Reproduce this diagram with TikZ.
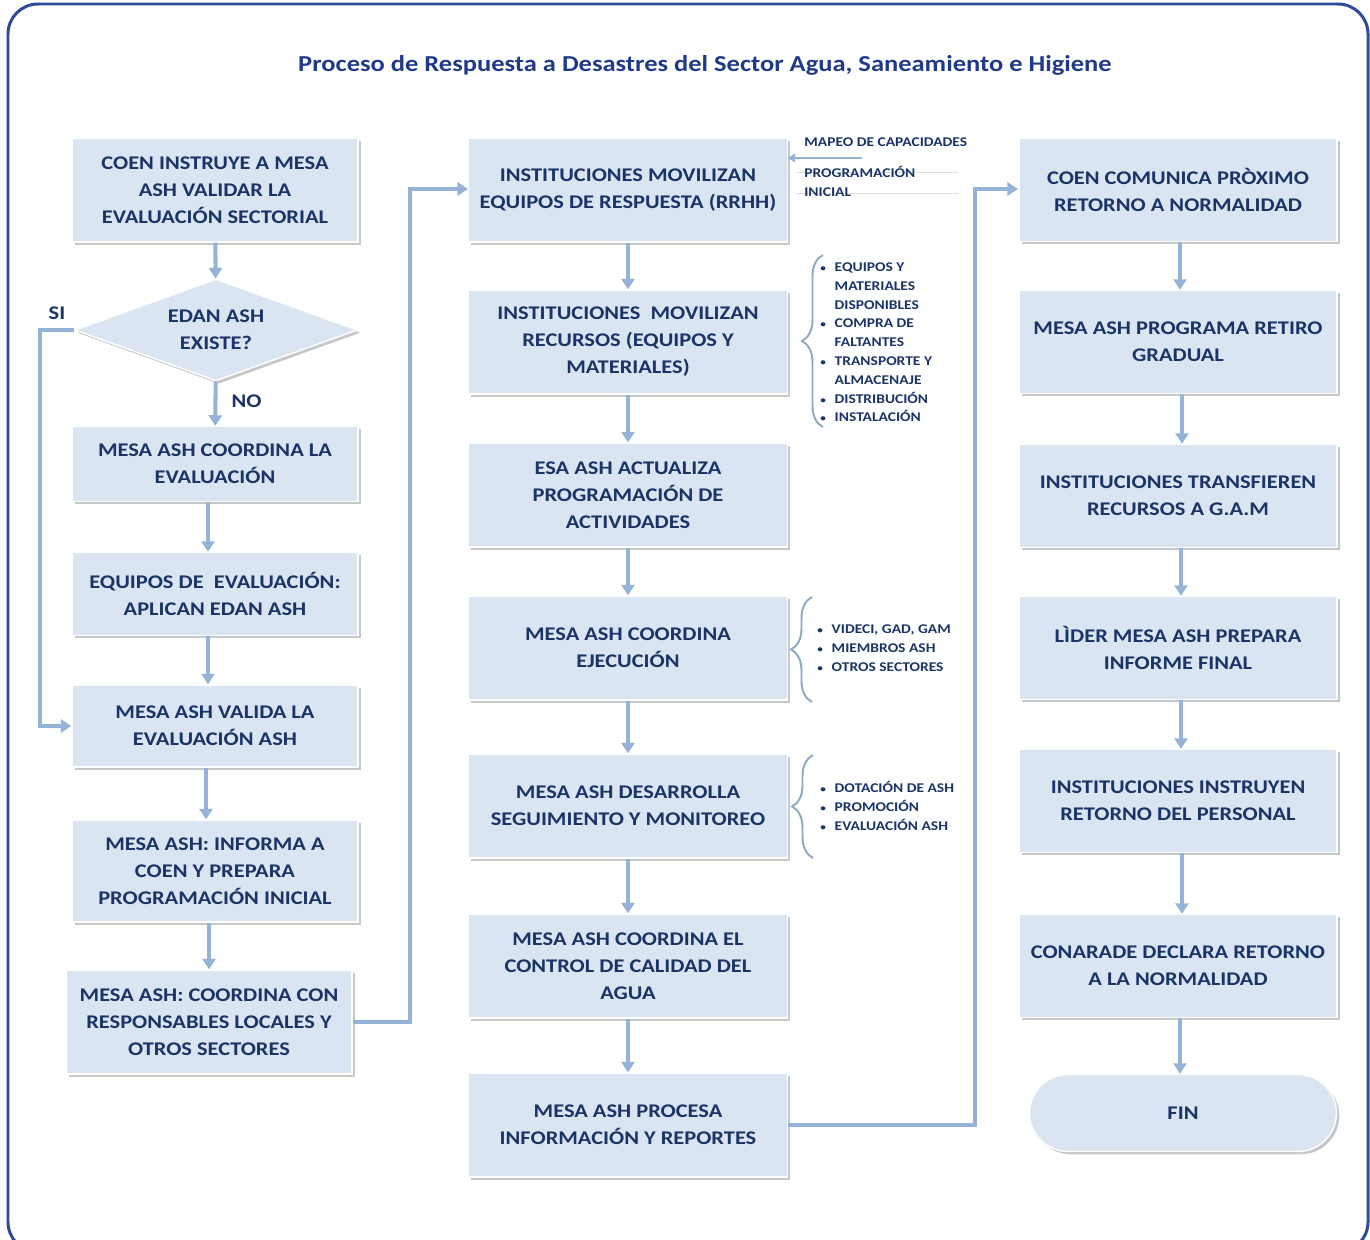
\documentclass[tikz,border=0pt]{standalone}
\usepackage{fontspec}
\setmainfont{Carlito}[FakeStretch=1.16]
\usetikzlibrary{arrows.meta,shapes.geometric,shadows,decorations.pathreplacing}
\definecolor{boxfill}{HTML}{DBE5F1}
\definecolor{boxtext}{HTML}{1A3468}
\definecolor{flowblue}{HTML}{95B3D7}
\definecolor{framenavy}{HTML}{2E4A9A}
\definecolor{titleblue}{HTML}{1F3A8A}
\definecolor{bracegray}{HTML}{8FA8C6}
\newcommand{\blt}{{\fontsize{5.5}{5}\selectfont\textbullet}}
\begin{document}
\begin{tikzpicture}[x=0.02cm, y=-0.02cm,
  box/.style={rectangle, fill=boxfill, draw=white, line width=0.8pt, text=boxtext,
    font=\fontsize{11}{15.3}\selectfont\bfseries, align=center, inner sep=0pt,
    drop shadow={shadow xshift=1.6pt, shadow yshift=-1.6pt, opacity=0.4, fill=black!55}},
  leftbox/.style={box, minimum width=5.72cm},
  midbox/.style={box, minimum width=6.38cm, minimum height=2.08cm},
  rightbox/.style={box, minimum width=6.36cm, minimum height=2.06cm},
  flow/.style={draw=flowblue, line width=2.3pt, -{Triangle[width=7.5pt,length=6pt]}},
  lbl/.style={text=boxtext, font=\fontsize{11}{13}\selectfont\bfseries, inner sep=0pt},
  note/.style={text=boxtext, font=\fontsize{7.6}{10.7}\selectfont\bfseries, inner sep=0pt, align=left},
  curly/.style={draw=bracegray, line width=1.1pt, decorate, decoration={brace, amplitude=0.42cm}}]
\useasboundingbox (0,0) rectangle (1370,1240);
% outer frame and title
\draw[framenavy, line width=1.7pt, rounded corners=0.6cm] (8,4) rectangle (1368,1252);
\node[text=titleblue, font=\fontsize{13}{15}\selectfont\bfseries] (title) at (705,65)
  {Proceso de Respuesta a Desastres del Sector Agua, Saneamiento e Higiene};

% left column
\node[leftbox, minimum height=2.08cm] (coen) at (215,190)
  {COEN INSTRUYE A MESA\\ASH VALIDAR LA\\EVALUACIÓN SECTORIAL};
\node[box, diamond, aspect=2.8, minimum width=5.66cm, minimum height=2.04cm] (edan) at (216,330)
  {EDAN ASH\\EXISTE?};
\node[leftbox, minimum height=1.5cm] (coord) at (215,464)
  {MESA ASH COORDINA LA\\EVALUACIÓN};
\node[leftbox, minimum height=1.66cm] (equipos) at (215,594)
  {EQUIPOS DE\ \ EVALUACIÓN:\\APLICAN EDAN ASH};
\node[leftbox, minimum height=1.64cm] (valida) at (215,726)
  {MESA ASH VALIDA LA\\EVALUACIÓN ASH};
\node[leftbox, minimum height=2.04cm] (informa) at (215,871)
  {MESA ASH: INFORMA A\\COEN Y PREPARA\\PROGRAMACIÓN INICIAL};
\node[leftbox, minimum height=2.08cm] (respons) at (209,1022)
  {MESA ASH: COORDINA CON\\RESPONSABLES LOCALES Y\\OTROS SECTORES};

\draw[flow] (coen) -- (edan);
\draw[flow] (edan) -- (coord) node[lbl, pos=0.45, right=8pt] (no) {NO};
\coordinate (siturn) at (40,330);
\draw[flow] (edan.west) -- (siturn) |- (valida.west);
\node[lbl] (si) at (57,313) {SI};
\draw[flow] (coord.south -| 208,0) -- (equipos.north -| 208,0);
\draw[flow] (equipos.south -| 208,0) -- (valida.north -| 208,0);
\draw[flow] (valida.south -| 206,0) -- (informa.north -| 206,0);
\draw[flow] (informa.south -| respons) -- (respons);
\coordinate (jumpa) at (410,189);
\draw[flow] (respons.east) -| (jumpa) -- (jumpa -| 468,0);

% middle column
\node[midbox] (movrrhh) at (628,190)
  {INSTITUCIONES MOVILIZAN\\EQUIPOS DE RESPUESTA (RRHH)};
\node[midbox] (movrec) at (628,342)
  {INSTITUCIONES\ \ MOVILIZAN\\RECURSOS (EQUIPOS Y\\MATERIALES)};
\node[midbox] (actual) at (628,495)
  {ESA ASH ACTUALIZA\\PROGRAMACIÓN DE\\ACTIVIDADES};
\node[midbox] (ejec) at (628,648)
  {MESA ASH COORDINA\\EJECUCIÓN};
\node[midbox] (seguim) at (628,806)
  {MESA ASH DESARROLLA\\SEGUIMIENTO Y MONITOREO};
\node[midbox] (calidad) at (628,966)
  {MESA ASH COORDINA EL\\CONTROL DE CALIDAD DEL\\AGUA};
\node[midbox] (procesa) at (628,1125)
  {MESA ASH PROCESA\\INFORMACIÓN Y REPORTES};

\draw[flow] (movrrhh) -- (movrec);
\draw[flow] (movrec) -- (actual);
\draw[flow] (actual) -- (ejec);
\draw[flow] (ejec) -- (seguim);
\draw[flow] (seguim) -- (calidad);
\draw[flow] (calidad) -- (procesa);
\coordinate (jumpb) at (975,189);
\draw[flow] (procesa.east) -| (jumpb) -- (jumpb -| 1018,0);

% notes beside the middle column
\node[note, anchor=west] (mapeo) at (804,142) {MAPEO DE CAPACIDADES};
\coordinate (mapstart) at (862,158);
\draw[draw=flowblue, line width=1.6pt, -{Triangle[width=5pt,length=4pt]}] (mapstart) -- (mapstart -| movrrhh.east);
\draw[black!12, line width=0.4pt] (796,172) -- (958,172) (796,193) -- (958,193);
\node[note, anchor=north west] (proginicial) at (804,166) {PROGRAMACIÓN\\INICIAL};

\draw[curly] (823,427) -- (823,255);
\node[note, anchor=west] (listrec) at (820,343)
  {\begin{tabular}{@{}l@{\hspace{5pt}}l@{}}
  \blt & EQUIPOS Y\\ & MATERIALES\\ & DISPONIBLES\\
  \blt & COMPRA DE\\ & FALTANTES\\
  \blt & TRANSPORTE Y\\ & ALMACENAJE\\
  \blt & DISTRIBUCIÓN\\
  \blt & INSTALACIÓN
  \end{tabular}};
\draw[curly] (812,702) -- (812,597);
\node[note, anchor=west] (listejec) at (817,649)
  {\begin{tabular}{@{}l@{\hspace{5pt}}l@{}}
  \blt & VIDECI, GAD, GAM\\
  \blt & MIEMBROS ASH\\
  \blt & OTROS SECTORES
  \end{tabular}};
\draw[curly] (813,858) -- (813,755);
\node[note, anchor=west] (listseg) at (820,808)
  {\begin{tabular}{@{}l@{\hspace{5pt}}l@{}}
  \blt & DOTACIÓN DE ASH\\
  \blt & PROMOCIÓN\\
  \blt & EVALUACIÓN ASH
  \end{tabular}};

% right column
\node[rightbox] (comunica) at (1178,190)
  {COEN COMUNICA PRÒXIMO\\RETORNO A NORMALIDAD};
\node[rightbox] (retiro) at (1178,342)
  {MESA ASH PROGRAMA RETIRO\\GRADUAL};
\node[rightbox] (transf) at (1178,496)
  {INSTITUCIONES TRANSFIEREN\\RECURSOS A G.A.M};
\node[rightbox] (informe) at (1178,648)
  {LÌDER MESA ASH PREPARA\\INFORME FINAL};
\node[rightbox] (retorno) at (1178,801)
  {INSTITUCIONES INSTRUYEN\\RETORNO DEL PERSONAL};
\node[rightbox] (conarade) at (1178,966)
  {CONARADE DECLARA RETORNO\\A LA NORMALIDAD};
\node[box, minimum width=6.14cm, minimum height=1.54cm, rounded corners=0.77cm] (fin) at (1183,1113)
  {FIN};

\draw[flow] (comunica.south -| 1180,0) -- (retiro.north -| 1180,0);
\draw[flow] (retiro.south -| 1182,0) -- (transf.north -| 1182,0);
\draw[flow] (transf.south -| 1181,0) -- (informe.north -| 1181,0);
\draw[flow] (informe.south -| 1181,0) -- (retorno.north -| 1181,0);
\draw[flow] (retorno.south -| 1182,0) -- (conarade.north -| 1182,0);
\draw[flow] (conarade.south -| 1180,0) -- (fin.north -| 1180,0);
\end{tikzpicture}
\end{document}
